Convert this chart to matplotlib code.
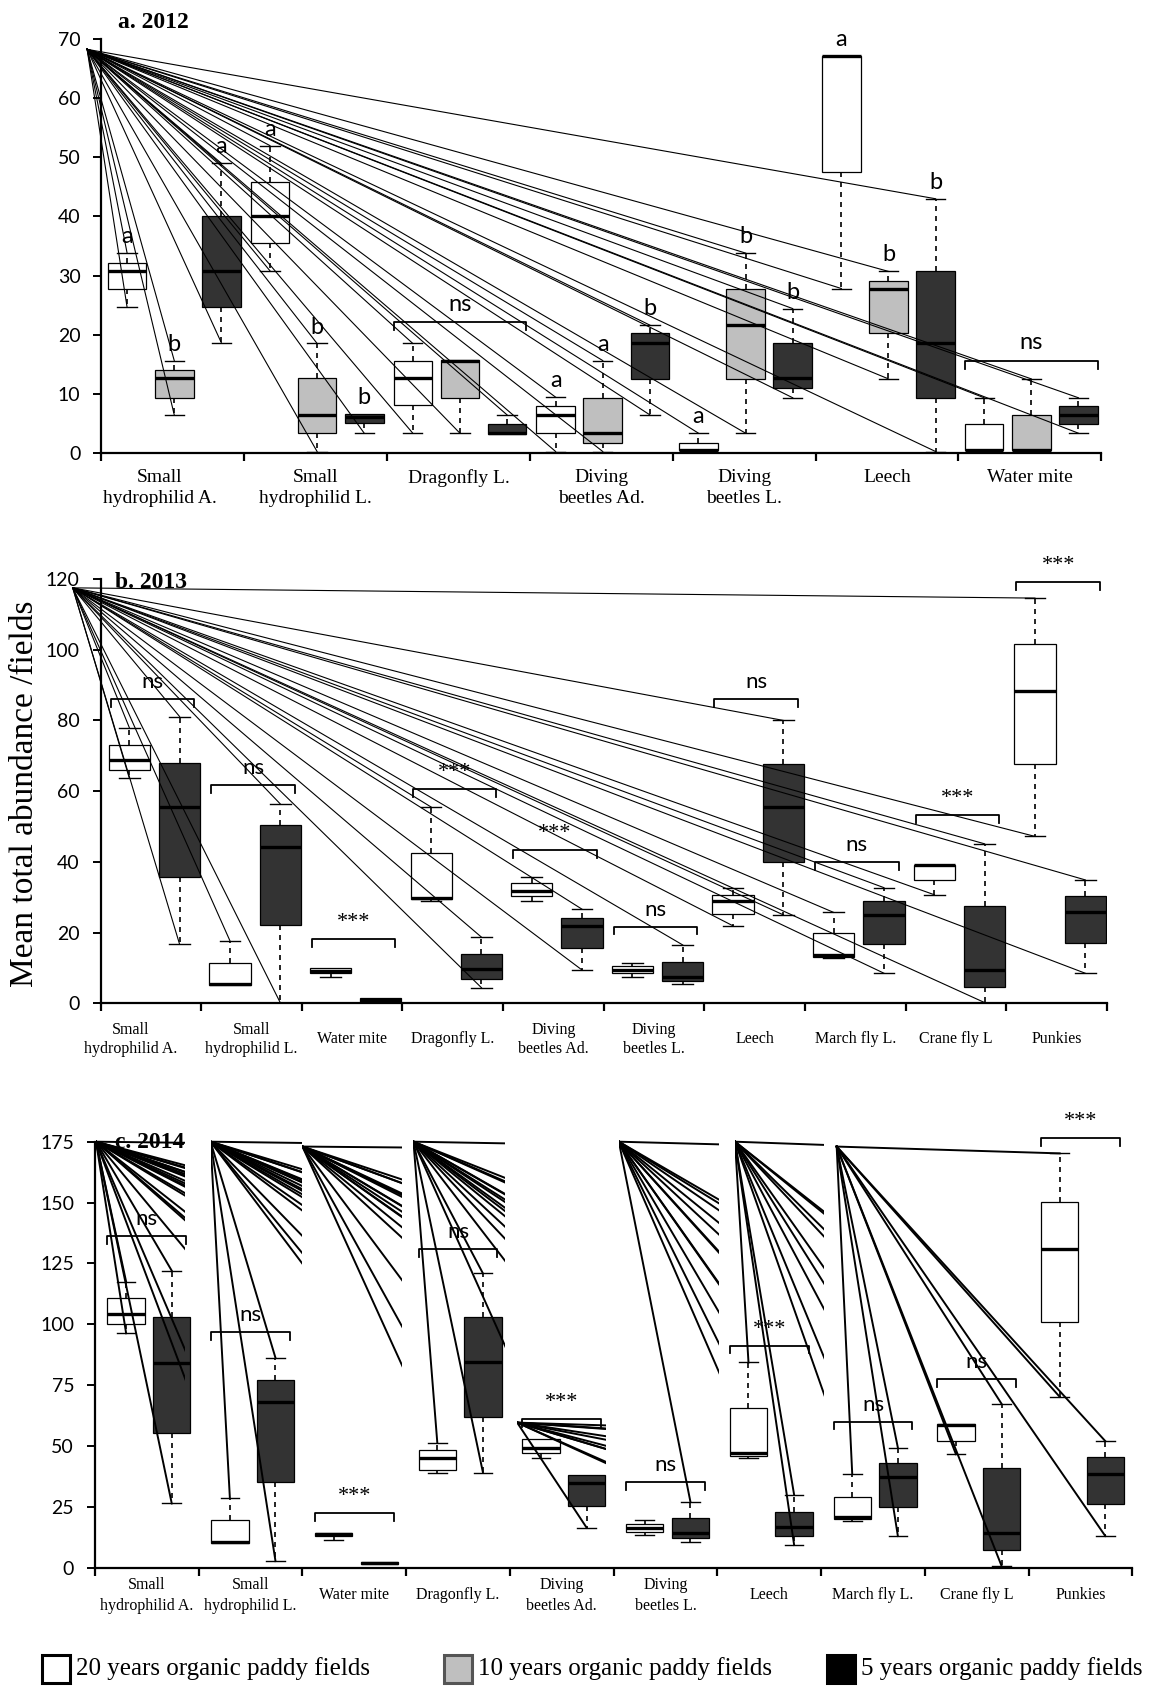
import matplotlib
matplotlib.use("Agg")
import matplotlib.pyplot as plt
from matplotlib.patches import Rectangle
from matplotlib.lines import Line2D

SERIF = "Liberation Serif"
SANS = "Lato"
plt.rcParams["font.family"] = [SANS, "DejaVu Sans"]

W, H = 1166, 1687

# ---------------- a. 2012 ----------------
cats_2012 = ["Small\nhydrophilid A.", "Small\nhydrophilid L.", "Dragonfly L.",
             "Diving\nbeetles Ad.", "Diving\nbeetles L.", "Leech", "Water mite"]
# 20 years organic
a20_lo = [24.6, 30.8, 3.3, 0.2, 0.45, 27.8, 0.45]
a20_q1 = [27.8, 35.5, 8.0, 3.3, 0.45, 47.6, 0.45]
a20_med = [30.8, 40.1, 12.6, 6.4, 0.45, 67.2, 0.45]
a20_q3 = [32.2, 45.9, 15.5, 7.9, 1.7, 67.2, 4.9]
a20_hi = [33.8, 52.0, 18.5, 9.4, 3.3, 67.2, 9.3]
# 10 years organic
a10_lo = [6.4, 0.2, 3.3, 0.2, 3.3, 12.5, 0.45]
a10_q1 = [9.3, 3.3, 9.3, 1.7, 12.5, 20.2, 0.45]
a10_med = [12.6, 6.4, 15.5, 3.3, 21.6, 27.8, 0.45]
a10_q3 = [14.0, 12.6, 15.7, 9.3, 27.7, 29.1, 6.3]
a10_hi = [15.6, 18.5, 15.7, 15.6, 33.8, 30.7, 12.5]
# 5 years organic
a5_lo = [18.6, 3.3, 3.2, 6.4, 9.3, 0.2, 3.3]
a5_q1 = [24.6, 5.0, 3.2, 12.5, 10.9, 9.3, 4.9]
a5_med = [30.8, 6.1, 3.4, 18.5, 12.6, 18.5, 6.3]
a5_q3 = [40.1, 6.5, 4.9, 20.2, 18.5, 30.7, 7.9]
a5_hi = [49.0, 6.5, 6.4, 21.6, 24.4, 43.0, 9.3]
# letters of the multiple comparison
a20_letters = ["a", "a", "", "a", "a", "a", ""]
a10_letters = ["b", "b", "", "a", "b", "b", ""]
a5_letters = ["a", "b", "", "b", "b", "b", ""]
a_bracket_cat = [2, 6]
a_bracket_y = [22.1, 15.6]
a_bracket_txt = ["ns", "ns"]

# ---------------- b. 2013 ----------------
cats_2013 = ["Small\nhydrophilid A.", "Small\nhydrophilid L.", "Water mite", "Dragonfly L.",
             "Diving\nbeetles Ad.", "Diving\nbeetles L.", "Leech", "March fly L.",
             "Crane fly L", "Punkies"]
b20_lo = [63.7, 5.2, 7.5, 28.8, 28.8, 7.5, 21.9, 12.7, 30.7, 47.2]
b20_q1 = [66.0, 5.2, 8.5, 29.4, 30.4, 8.5, 25.2, 13.2, 34.9, 67.7]
b20_med = [68.9, 5.4, 9.2, 29.7, 31.9, 9.4, 28.8, 13.7, 39.0, 88.2]
b20_q3 = [73.1, 11.5, 9.9, 42.6, 34.0, 10.6, 30.7, 19.8, 39.2, 101.6]
b20_hi = [78.0, 17.7, 9.9, 55.5, 35.8, 11.5, 32.5, 25.7, 39.2, 114.6]
b5_lo = [16.7, 0.2, 0.5, 4.4, 9.4, 5.5, 25.0, 8.5, 0.2, 8.5]
b5_q1 = [35.8, 22.2, 0.5, 6.8, 15.6, 6.4, 39.9, 16.7, 4.7, 17.0]
b5_med = [55.5, 44.2, 1.0, 9.6, 22.0, 7.5, 55.5, 25.0, 9.4, 25.7]
b5_q3 = [68.1, 50.3, 1.6, 13.9, 24.2, 11.8, 67.7, 28.8, 27.4, 30.4]
b5_hi = [81.1, 56.4, 1.6, 18.7, 26.6, 16.5, 80.0, 32.7, 45.1, 34.9]
b_bracket_y = [86.1, 61.8, 18.1, 60.6, 43.4, 21.7, 86.1, 39.9, 53.3, 119.2]
b_bracket_txt = ["ns", "ns", "***", "***", "***", "ns", "ns", "ns", "***", "***"]

# ---------------- c. 2014 ----------------
cats_2014 = cats_2013
c20_lo = [96.3, 10.2, 11.4, 38.7, 45.2, 13.4, 45.2, 19.3, 46.6, 70.2]
c20_q1 = [100.1, 10.2, 13.0, 40.1, 47.2, 14.8, 45.9, 20.0, 52.2, 100.8]
c20_med = [104.2, 10.7, 13.7, 44.9, 49.0, 16.4, 47.2, 20.7, 58.6, 130.9]
c20_q3 = [110.6, 19.8, 14.4, 48.3, 52.7, 17.8, 65.5, 29.2, 58.9, 150.1]
c20_hi = [117.5, 28.8, 14.4, 51.3, 52.7, 19.8, 84.3, 38.5, 58.9, 170.2]
c5_lo = [26.4, 2.7, 1.4, 39.1, 16.4, 10.7, 9.3, 13.0, 0.7, 13.0]
c5_q1 = [55.2, 35.4, 1.4, 62.0, 25.3, 12.0, 13.0, 25.1, 7.3, 26.0]
c5_med = [83.9, 68.2, 2.0, 84.3, 34.9, 14.1, 16.6, 37.1, 14.4, 38.5]
c5_q3 = [102.8, 77.2, 2.5, 102.8, 38.1, 20.3, 23.0, 42.9, 40.8, 45.3]
c5_hi = [122.0, 86.2, 2.5, 120.9, 38.1, 27.1, 29.9, 49.3, 67.3, 52.0]
c_bracket_y = [136.2, 96.7, 22.3, 130.8, 61.0, 35.3, 91.2, 60.0, 77.5, 176.4]
c_bracket_txt = ["ns", "ns", "***", "ns", "***", "ns", "***", "ns", "ns", "***"]

WHITE, GREY, DARK = "#FFFFFF", "#BFBFBF", "#333333"


def fx(px):
    return px / W


def fy(py):
    return 1 - py / H


def make_axes(left, right, top, bottom, ncat, ymax, ystep):
    ax = fig.add_axes([fx(left), fy(bottom), fx(right - left), (bottom - top) / H])
    ax.set_xlim(0, ncat)
    ax.set_ylim(0, ymax)
    for s in ["top", "right"]:
        ax.spines[s].set_visible(False)
    for s in ["left", "bottom"]:
        ax.spines[s].set_linewidth(1.6)
    ax.set_xticks(range(ncat + 1))
    ax.set_xticklabels([])
    ax.set_yticks(range(0, ymax + 1, ystep))
    ax.tick_params(axis="x", length=6, width=1.6, direction="out")
    ax.tick_params(axis="y", length=6, width=1.4, direction="out", labelsize=14, pad=9)
    return ax


def draw_box(ax, x, w, lo, q1, med, q3, hi, color):
    ax.add_patch(Rectangle((x - w / 2, q1), w, q3 - q1, facecolor=color,
                           edgecolor="black", lw=0.9, zorder=3))
    ax.plot([x - w / 2, x + w / 2], [med, med], color="black", lw=2.4,
            solid_capstyle="butt", zorder=4)
    for end, edge in [(hi, q3), (lo, q1)]:
        if abs(end - edge) > 0.3:
            ax.plot([x, x], [edge, end], color="black", lw=1.2, ls=(0, (3, 3)), zorder=3)
            ax.plot([x - w / 4, x + w / 4], [end, end], color="black", lw=1.0, zorder=3)


def draw_group(ax, offset, w, lo, q1, med, q3, hi, color, thr, targets):
    for i in range(len(med)):
        x = i + offset
        draw_box(ax, x, w, lo[i], q1[i], med[i], q3[i], hi[i], color)
        if hi[i] - q3[i] > thr:
            targets.append((x, hi[i]))
        if q1[i] - lo[i] > thr:
            targets.append((x, lo[i]))


def draw_fan(ax, ox, oy, targets, lw, right=None):
    for tx, ty in targets:
        if tx <= ox or ty >= oy:
            continue
        ln = Line2D([ox, tx], [oy, ty], color="black", lw=lw, zorder=5)
        ax.add_line(ln)
        if right is None:
            ln.set_clip_on(False)
        else:
            clip = Rectangle((ox, -50), right - ox, 400, transform=ax.transData)
            ln.set_clip_path(clip)


def draw_bracket(ax, x0, x1, y, txt, leg, size):
    ax.plot([x0, x0, x1, x1], [y - leg, y, y, y - leg], color="black", lw=1.3,
            zorder=4, clip_on=False)
    fam = SERIF if txt.startswith("*") else SANS
    ax.text((x0 + x1) / 2, y + leg * 0.9, txt, ha="center", va="bottom",
            fontsize=size, family=fam, zorder=6, clip_on=False)


def cat_labels(ax, cats, size, dy, va, lsp, shift0=0.0):
    for i, c in enumerate(cats):
        x = i + 0.5 + (shift0 if i == 0 else 0)
        ax.annotate(c, xy=(x, 0), xycoords=("data", "axes fraction"),
                    xytext=(0, dy), textcoords="offset points", ha="center",
                    va=va, fontsize=size, family=SERIF, linespacing=lsp)


fig = plt.figure(figsize=(W / 100, H / 100), dpi=100)

# ---- panel a ----
ax = make_axes(101.4, 1101.3, 39.3, 452.7, 7, 70, 10)
targets = []
wa = 0.27
groups_a = [(0.18, a20_lo, a20_q1, a20_med, a20_q3, a20_hi, WHITE, a20_letters),
            (0.51, a10_lo, a10_q1, a10_med, a10_q3, a10_hi, GREY, a10_letters),
            (0.84, a5_lo, a5_q1, a5_med, a5_q3, a5_hi, DARK, a5_letters)]
for off, lo, q1, med, q3, hi, col, letters in groups_a:
    draw_group(ax, off, wa, lo, q1, med, q3, hi, col, 1.0, targets)
    for i, s in enumerate(letters):
        if s:
            ax.text(i + off, max(hi[i], q3[i]) + 1.0, s, ha="center", va="bottom",
                    fontsize=17, zorder=6, clip_on=False)
for c, y, t in zip(a_bracket_cat, a_bracket_y, a_bracket_txt):
    draw_bracket(ax, c + 0.18 - wa / 2, c + 0.84 + wa / 2, y, t, 1.4, 17)
draw_fan(ax, -0.10, 68.3, targets, 0.8)
cat_labels(ax, cats_2012, 14, -12, "top", 1.3, shift0=-0.09)
fig.text(fx(118), fy(22), "a. 2012", family=SERIF, weight="bold", fontsize=17, va="center")

# ---- panel b ----
ax = make_axes(100.6, 1106.9, 579.0, 1003.3, 10, 120, 20)
targets = []
wb = 0.41
groups_b = [(0.285, b20_lo, b20_q1, b20_med, b20_q3, b20_hi, WHITE),
            (0.785, b5_lo, b5_q1, b5_med, b5_q3, b5_hi, DARK)]
for off, lo, q1, med, q3, hi, col in groups_b:
    draw_group(ax, off, wb, lo, q1, med, q3, hi, col, 2.0, targets)
for i, (y, t) in enumerate(zip(b_bracket_y, b_bracket_txt)):
    draw_bracket(ax, i + 0.285 - wb / 2 + 0.02, i + 0.785 + wb / 2 - 0.06, y, t, 2.2, 16)
draw_fan(ax, -0.277, 117.5, targets, 0.8)
cat_labels(ax, cats_2013, 11.5, -26, "center", 1.25, shift0=-0.2)
fig.text(fx(115), fy(582), "b. 2013", family=SERIF, weight="bold", fontsize=17, va="center")

# ---- panel c ----
ax = make_axes(95.0, 1132.3, 1141.7, 1567.7, 10, 175, 25)
targets = []
wc = 0.36
groups_c = [(0.30, c20_lo, c20_q1, c20_med, c20_q3, c20_hi, WHITE),
            (0.74, c5_lo, c5_q1, c5_med, c5_q3, c5_hi, DARK)]
for off, lo, q1, med, q3, hi, col in groups_c:
    draw_group(ax, off, wc, lo, q1, med, q3, hi, col, 2.1, targets)
for i, (y, t) in enumerate(zip(c_bracket_y, c_bracket_txt)):
    draw_bracket(ax, i + 0.30 - wc / 2, i + 0.74 + wc / 2 - 0.04, y, t, 3.2, 16)
# fans of leader lines, each cut off at the right edge of its strip
fan_x = [0.01, 1.114, 2.0, 3.07, 4.07, 5.05, 6.17, 7.15]
fan_y = [175, 175, 173, 175, 59.6, 175, 175, 173]
fan_right = [0.868, 1.996, 2.96, 3.95, 4.93, 6.02, 7.03, None]
for ox, oy, r in zip(fan_x, fan_y, fan_right):
    draw_fan(ax, ox, oy, targets, 1.4, right=r)
cat_labels(ax, cats_2014, 11.5, -20, "center", 1.35)
fig.text(fx(115), fy(1143), "c. 2014", family=SERIF, weight="bold", fontsize=17, va="center")

# shared y label
fig.text(fx(25), fy(794), "Mean total abundance /fields", rotation=90, family=SERIF,
         fontsize=24, ha="center", va="center")

# legend along the bottom
legend_items = ["20 years organic paddy fields", "10 years organic paddy fields",
                "5 years organic paddy fields"]
legend_cols = [WHITE, GREY, "#000000"]
legend_edges = ["#000000", "#555555", "#000000"]
legend_x = [42, 444, 827]
for x, lab, col, ec in zip(legend_x, legend_items, legend_cols, legend_edges):
    fig.patches.append(Rectangle((fx(x), fy(1683)), 28 / W, 28 / H, facecolor=col,
                                 edgecolor=ec, lw=2.2, transform=fig.transFigure))
    fig.text(fx(x + 34), fy(1669), lab, family=SERIF, fontsize=18, va="center")

fig.savefig("out.png", dpi=100)
